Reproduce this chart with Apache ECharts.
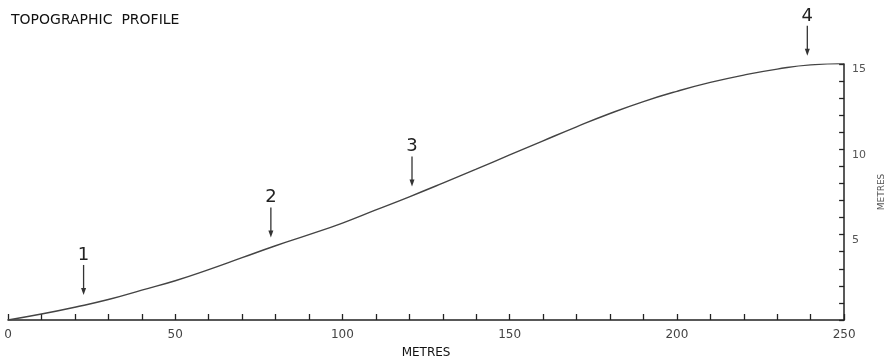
<!DOCTYPE html>
<html>
<head>
<meta charset="utf-8">
<script src="https://cdn.jsdelivr.net/npm/echarts@6/dist/echarts.min.js"></script>
<style>
  html, body { margin: 0; padding: 0; background: #fff; }
  #chart { width: 894px; height: 364px; }
</style>
</head>
<body>
<div id="chart"></div>
<script>
// distance along the profile (m) and height (m)
const distance = [0, 10, 20, 30, 40, 50, 60, 70, 80, 90, 100, 110, 120, 130, 140, 150, 160, 170, 180, 190, 200, 210, 220, 230, 240, 250]
const height = [0, 0.35, 0.75, 1.2, 1.75, 2.3, 2.95, 3.65, 4.35, 5.0, 5.68, 6.45, 7.22, 8.02, 8.84, 9.67, 10.5, 11.32, 12.1, 12.8, 13.4, 13.92, 14.35, 14.7, 14.95, 15.02]

// numbered arrows pointing down at the profile
const arrowNames = ['1', '2', '3', '4']
const arrowX = [22.6, 78.6, 120.8, 239]
const arrowY = [0.94, 4.3, 7.3, 14.95]

const chart = echarts.init(document.getElementById('chart'))

const renderArrow = (params, api) => {
    const p = api.coord([api.value(0), api.value(1)])
    const gap = 9, len = 30
    const tip = p[1] - gap
    const top = tip - len
    return {
        type: 'group',
        children: [
            { type: 'line', shape: { x1: p[0], y1: top, x2: p[0], y2: tip - 5 },
              style: { stroke: '#333', lineWidth: 1.3 } },
            { type: 'polygon', shape: { points: [[p[0] - 2.5, tip - 7], [p[0] + 2.5, tip - 7], [p[0], tip]] },
              style: { fill: '#333' } },
            { type: 'text', x: p[0], y: top - 10,
              style: { text: arrowNames[params.dataIndex], fill: '#222', font: '18px "DejaVu Sans"',
                       align: 'center', verticalAlign: 'middle' } }
        ]
    }
}

const option = {
    animation: false,
    backgroundColor: '#fff',
    title: {
        text: 'TOPOGRAPHIC  PROFILE',
        left: 6, top: 8,
        textStyle: { fontFamily: 'DejaVu Sans', fontSize: 14, fontWeight: 'normal', color: '#111' }
    },
    grid: { left: 8, right: 46, top: 64, bottom: 44 },
    xAxis: {
        type: 'value',
        min: 0, max: 250, interval: 10,
        name: 'METRES',
        nameLocation: 'middle',
        nameGap: 27,
        nameTextStyle: { fontFamily: 'DejaVu Sans', fontSize: 12, color: '#111' },
        axisLine: { lineStyle: { color: '#222', width: 1.5 } },
        axisTick: { inside: true, length: 6, lineStyle: { color: '#222', width: 1.3 } },
        axisLabel: {
            fontFamily: 'DejaVu Sans', fontSize: 12, color: '#444', margin: 9,
            formatter: v => (v % 50 === 0 ? String(v) : '')
        },
        splitLine: { show: false }
    },
    yAxis: {
        type: 'value',
        position: 'right',
        min: 0, max: 15, interval: 1,
        name: 'METRES',
        nameLocation: 'middle',
        nameRotate: 90,
        nameGap: 32,
        nameTextStyle: { fontFamily: 'DejaVu Sans', fontSize: 9, color: '#555', padding: [0, 0, -20, 0] },
        axisLine: { show: true, onZero: false, lineStyle: { color: '#222', width: 1.5 } },
        axisTick: { inside: true, length: 5, lineStyle: { color: '#222', width: 1.3 } },
        axisLabel: {
            fontFamily: 'DejaVu Sans', fontSize: 11, color: '#555', margin: 8,
            verticalAlign: 'top',
            formatter: v => (v % 5 === 0 && v > 0 ? String(v) : '')
        },
        splitLine: { show: false }
    },
    series: [
        {
            type: 'line',
            data: distance.map((d, i) => [d, height[i]]),
            smooth: true,
            showSymbol: false,
            lineStyle: { color: '#444', width: 1.4 }
        },
        {
            type: 'custom',
            renderItem: renderArrow,
            data: arrowX.map((x, i) => [x, arrowY[i]]),
            clip: false,
            z: 5
        }
    ]
}

chart.setOption(option)
</script>
</body>
</html>
